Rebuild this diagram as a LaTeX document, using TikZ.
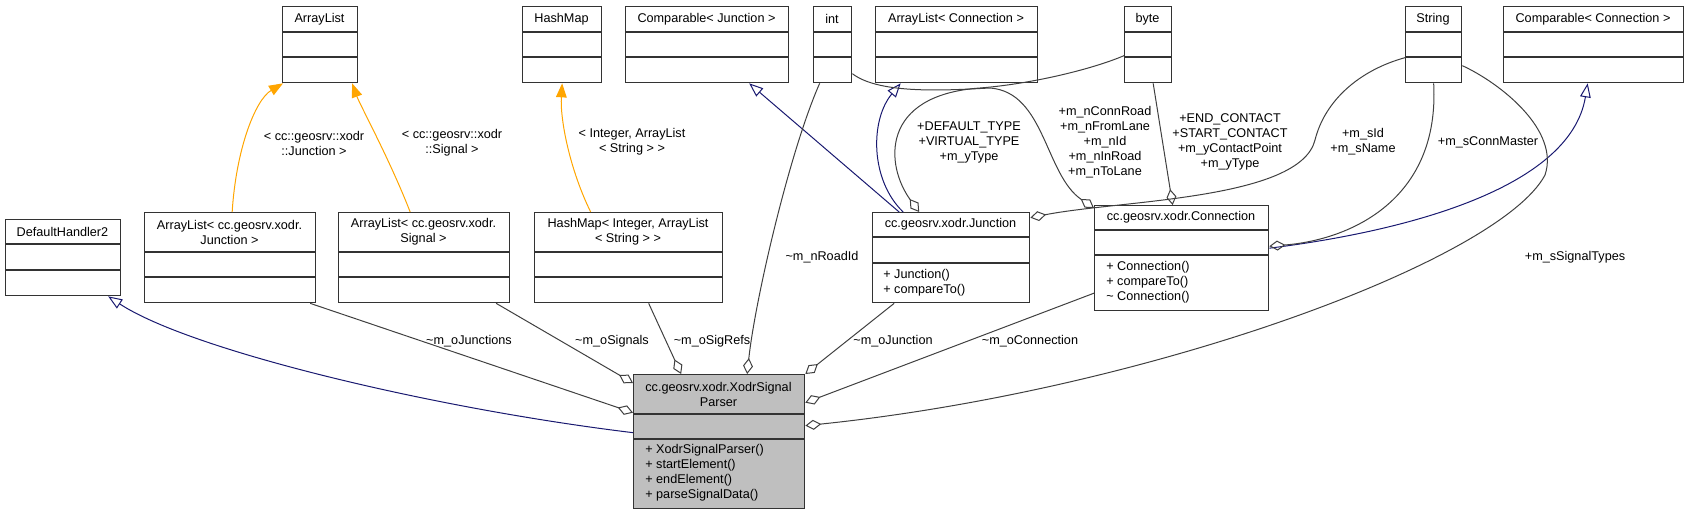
\documentclass[tikz,border=0pt]{standalone}
\usepackage{fontspec}
\setmainfont{Liberation Sans}
\usetikzlibrary{arrows.meta,calc}

\definecolor{boxgray}{HTML}{333333}
\definecolor{edgegray}{HTML}{404040}
\definecolor{mainfill}{HTML}{BFBFBF}
\definecolor{navyline}{HTML}{191970}
\definecolor{tmplorange}{HTML}{FFA500}

% class box: [fill]{name}{x1}{y1}{x2}{y2}{line a}{line b}{title}
\newcommand{\umlclass}[9][white]{%
  \node[classbox, fill=#1, anchor=north west,
        minimum width={(#5-#3)*0.75pt}, minimum height={(#6-#4)*0.75pt}] (#2) at (#3,#4) {};
  \draw[classline] (#3,#7) -- (#5,#7) (#3,#8) -- (#5,#8);
  \node[ctitle] at ({(#3+#5)/2},{(#4+#7)/2}) {#9};
}

\begin{document}
\begin{tikzpicture}[x=0.75pt, y=-0.75pt,
  every node/.style={font=\fontsize{9.5}{11.25}\selectfont},
  classbox/.style={draw=boxgray, line width=1pt, inner sep=0pt},
  classline/.style={draw=boxgray, line width=1pt},
  ctitle/.style={align=center, inner sep=0pt},
  members/.style={align=left, anchor=west, inner sep=0pt},
  elabel/.style={align=center, inner sep=0pt},
  agg/.style={draw=edgegray, line width=0.75pt, {Diamond[open, length=12pt, width=7.5pt]}-},
  inherit/.style={draw=navyline, line width=0.75pt, -{Triangle[open, length=10.5pt, width=8pt]}},
  tmpl/.style={draw=tmplorange, line width=0.75pt, -{Triangle[length=10.5pt, width=8pt]}}]
\useasboundingbox (0,0) rectangle (1688,515);

% top row
\umlclass{al}{282}{6}{357}{82}{32}{57}{ArrayList}
\umlclass{hm}{522}{6}{601}{82}{32}{57}{HashMap}
\umlclass{cj}{625}{6}{788}{82}{32}{57}{Comparable< Junction >}
\umlclass{int}{813}{6}{851}{82}{32}{57}{int}
\umlclass{alc}{875}{6}{1037}{82}{32}{57}{ArrayList< Connection >}
\umlclass{byte}{1124}{6}{1171}{82}{32}{57}{byte}
\umlclass{str}{1405}{6}{1461}{82}{32}{57}{String}
\umlclass{cc}{1503}{6}{1683}{82}{32}{57}{Comparable< Connection >}

% middle row
\umlclass{dh}{5}{219}{120}{295}{244}{270}{DefaultHandler2}
\umlclass{alj}{144}{212}{315}{302}{252}{277}{ArrayList< cc.geosrv.xodr.\\Junction >}
\umlclass{als}{338}{212}{509}{302}{252}{277}{ArrayList< cc.geosrv.xodr.\\Signal >}
\umlclass{hmi}{534}{212}{722}{302}{252}{277}{HashMap< Integer, ArrayList\\< String > >}
\umlclass{junc}{872}{212}{1029}{302}{237}{263}{cc.geosrv.xodr.Junction}
\umlclass{conn}{1094}{205}{1268}{310}{230}{255}{cc.geosrv.xodr.Connection}
\node[members] at (883,282.5) {+ Junction()\\+ compareTo()};
\node[members] at (1106,282) {+ Connection()\\+ compareTo()\\\textasciitilde{} Connection()};

% main class
\umlclass[mainfill]{xodr}{633}{374}{804}{508}{414}{439}{cc.geosrv.xodr.XodrSignal\\Parser}
\node[members] at (645,473) {+ XodrSignalParser()\\+ startElement()\\+ endElement()\\+ parseSignalData()};

% template instances
\draw[tmpl] ($(alj.north)+(2,0)$) .. controls (236,150) and (255,100) .. ($(al.south west)+(1,0)$);
\draw[tmpl] ($(als.north)+(-14,0)$) .. controls (390,160) and (360,105) .. ($(al.south)+(32,0)$);
\draw[tmpl] ($(hmi.north)+(-38,0)$) .. controls (570,170) and (560,120) .. (hm.south);
\node[elabel] at (314,143) {< cc::geosrv::xodr\\::Junction >};
\node[elabel] at (452,143) {< cc::geosrv::xodr\\::Signal >};
\node[elabel] at (632,142) {< Integer, ArrayList\\< String > >};

% inheritance
\draw[inherit] ($(xodr.west)+(0,-9)$) .. controls (430,408) and (190,350) .. ($(dh.south)+(45,0)$);
\draw[inherit] ($(junc.north)+(-52,0)$) -- ($(cj.south)+(42,0)$);
\draw[inherit] ($(junc.north)+(-48,0)$) .. controls (870,180) and (870,120) .. ($(alc.south)+(-56,0)$);
\draw[inherit] ($(conn.east)+(0,-10)$) .. controls (1400,232) and (1570,190) .. ($(cc.south)+(-6,0)$);

% members of Junction and Connection
\draw[agg] ($(junc.north)+(-32,0)$) .. controls (885,165) and (880,95) .. (980,88)
  .. controls (1030,84) and (1090,70) .. ($(byte.west)+(0,11)$);
\draw[agg] ($(conn.north west)+(0,3)$) .. controls (1045,175) and (1045,92) .. (990,88)
  .. controls (950,90) and (880,95) .. ($(int.east)+(0,29)$);
\draw[agg] ($(conn.north)+(-9,0)$) -- ($(byte.south)+(5,0)$);
\draw[agg] ($(junc.east)+(0,-40)$) .. controls (1120,200) and (1300,200) .. (1315,140)
  .. controls (1325,100) and (1360,70) .. ($(str.west)+(0,13)$);
\draw[agg] ($(conn.east)+(0,-12)$) .. controls (1350,240) and (1440,200) .. (str.south);
\node[elabel] at (969,142) {+DEFAULT\_TYPE\\+VIRTUAL\_TYPE\\+m\_yType};
\node[elabel] at (1105,142) {+m\_nConnRoad\\+m\_nFromLane\\+m\_nId\\+m\_nInRoad\\+m\_nToLane};
\node[elabel] at (1230,142) {+END\_CONTACT\\+START\_CONTACT\\+m\_yContactPoint\\+m\_yType};
\node[elabel] at (1363,142) {+m\_sId\\+m\_sName};
\node[elabel] at (1488,142) {+m\_sConnMaster};

% members of the parser
\draw[agg] ($(xodr.west)+(0,-29)$) -- ($(alj.south)+(80,0)$);
\draw[agg] ($(xodr.north west)+(0,9)$) -- ($(als.south)+(72,0)$);
\draw[agg] ($(xodr.north)+(-38,0)$) -- ($(hmi.south)+(20,0)$);
\draw[agg] ($(xodr.north)+(28,0)$) .. controls (755,300) and (790,150) .. ($(int.south)+(-13,0)$);
\draw[agg] (xodr.north east) -- ($(junc.south)+(-57,0)$);
\draw[agg] ($(xodr.east)+(0,-39)$) -- ($(conn.west)+(0,35)$);
\draw[agg] ($(xodr.east)+(0,-16)$) .. controls (1150,390) and (1500,260) .. (1545,175)
  .. controls (1560,130) and (1500,83) .. ($(str.east)+(0,21)$);
\node[elabel] at (822,257) {\textasciitilde m\_nRoadId};
\node[elabel] at (1575,257) {+m\_sSignalTypes};
\node[elabel] at (469,341) {\textasciitilde m\_oJunctions};
\node[elabel] at (612,341) {\textasciitilde m\_oSignals};
\node[elabel] at (712,341) {\textasciitilde m\_oSigRefs};
\node[elabel] at (893,341) {\textasciitilde m\_oJunction};
\node[elabel] at (1030,341) {\textasciitilde m\_oConnection};
\end{tikzpicture}
\end{document}
